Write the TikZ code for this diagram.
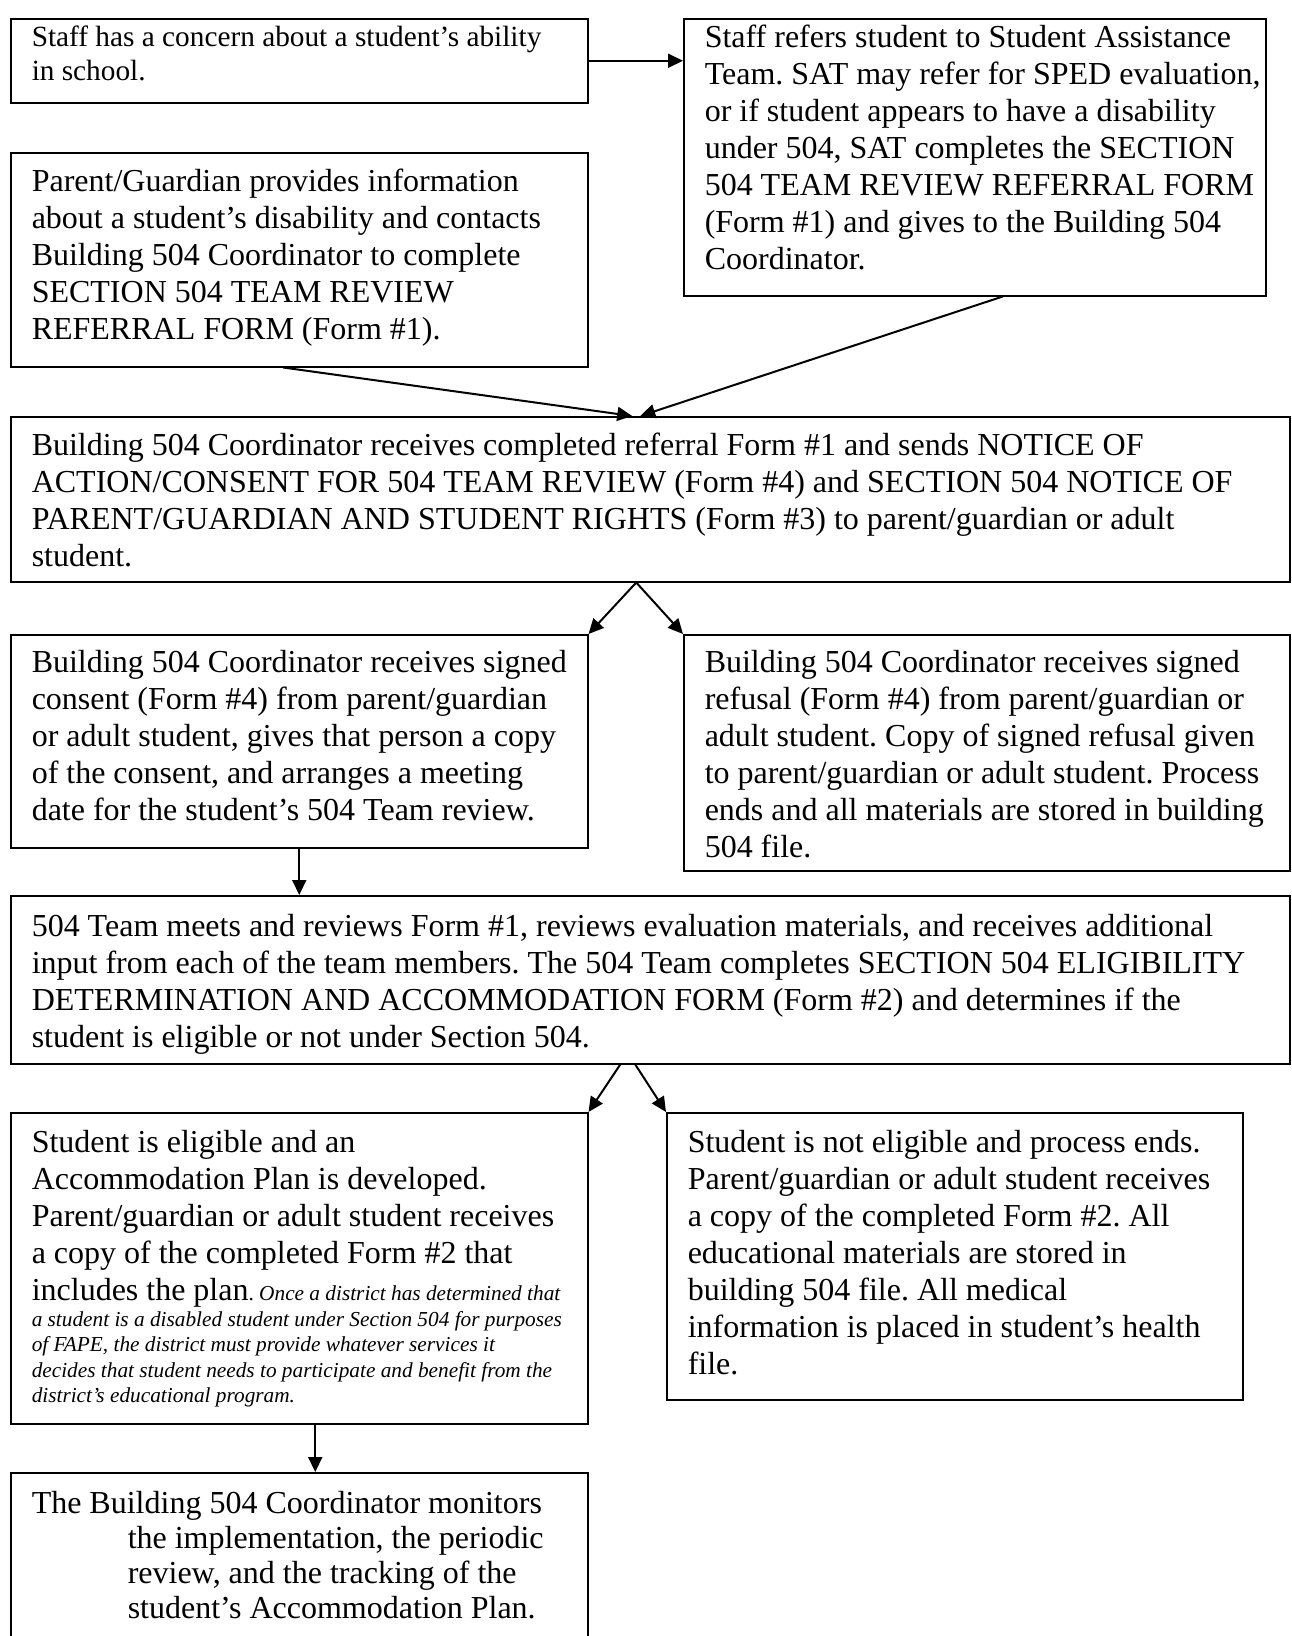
\documentclass[tikz,border=0pt]{standalone}
\usepackage{fontspec}
\setmainfont{Liberation Serif}
\usetikzlibrary{arrows.meta}

\newcommand{\mainsize}{\fontsize{32}{37}\selectfont}
\newcommand{\firstsize}{\fontsize{29.3}{34}\selectfont}
\newcommand{\lastsize}{\fontsize{32}{35}\selectfont}
\newcommand{\notesize}{\fontsize{21.3}{25.5}\selectfont\itshape}

\tikzset{
  flowbox/.style={draw, line width=1.5pt, anchor=north west, inner sep=0pt,
    font=\mainsize,
    execute at begin node={\frenchspacing\spaceskip=0pt\xspaceskip=0pt
      \leftskip=21pt\rightskip=-12pt plus 1fil\relax}},
  flowarrow/.style={line width=2pt, -{Triangle[length=15pt,width=14pt]}}
}

\begin{document}
\begin{tikzpicture}[x=1pt, y=-1pt]
\useasboundingbox (0,0) rectangle (1291,1636);

% first row
\node[flowbox, font=\firstsize, text width=577pt, text height=28pt, text depth=56pt] (concern) at (10,18)
  {Staff has a concern about a student's ability\\ in school.};
\node[flowbox, text width=582pt, text height=29pt, text depth=248pt] (refers) at (683,18)
  {Staff refers student to Student Assistance\\ Team. SAT may refer for SPED evaluation,\\ or if student appears to have a disability\\ under 504, SAT completes the SECTION\\ 504 TEAM REVIEW REFERRAL FORM\\ (Form \#1) and gives to the Building 504\\ Coordinator.};
\node[flowbox, text width=577pt, text height=39pt, text depth=175pt] (parent) at (10,152)
  {Parent/Guardian provides information\\ about a student's disability and contacts\\ Building 504 Coordinator to complete\\ SECTION 504 TEAM REVIEW\\ REFERRAL FORM (Form \#1).};

% coordinator review
\node[flowbox, text width=1279pt, text height=39pt, text depth=126pt] (review) at (10,416)
  {Building 504 Coordinator receives completed referral Form \#1 and sends NOTICE OF\\ ACTION/CONSENT FOR 504 TEAM REVIEW (Form \#4) and SECTION 504 NOTICE OF\\ PARENT/GUARDIAN AND STUDENT RIGHTS (Form \#3) to parent/guardian or adult\\ student.};

% consent or refusal
\node[flowbox, text width=577pt, text height=38pt, text depth=175pt] (consent) at (10,634)
  {Building 504 Coordinator receives signed\\ consent (Form \#4) from parent/guardian\\ or adult student, gives that person a copy\\ of the consent, and arranges a meeting\\ date for the student's 504 Team review.};
\node[flowbox, text width=606pt, text height=38pt, text depth=198pt] (refusal) at (683,634)
  {Building 504 Coordinator receives signed\\ refusal (Form \#4) from parent/guardian or\\ adult student. Copy of signed refusal given\\ to parent/guardian or adult student. Process\\ ends and all materials are stored in building\\ 504 file.};

% team meeting
\node[flowbox, text width=1279pt, text height=41pt, text depth=127pt] (team) at (10,895)
  {504 Team meets and reviews Form \#1, reviews evaluation materials, and receives additional\\ input from each of the team members. The 504 Team completes SECTION 504 ELIGIBILITY\\ DETERMINATION AND ACCOMMODATION FORM (Form \#2) and determines if the\\ student is eligible or not under Section 504.};

% eligibility
\node[flowbox, text width=577pt, text height=40pt, text depth=271pt] (eligible) at (10,1112)
  {Student is eligible and an\\ Accommodation Plan is developed.\\ Parent/guardian or adult student receives\\ a copy of the completed Form \#2 that\\ includes the plan{\fontsize{21.3}{25.5}\selectfont.\itshape\ Once a district has determined that}\par
  {\notesize a student is a disabled student under Section 504 for purposes\\ of FAPE, the district must provide whatever services it\\ decides that student needs to participate and benefit from the\\ district's educational program.\par}};
\node[flowbox, text width=576pt, text height=40pt, text depth=247pt] (noteligible) at (666,1112)
  {Student is not eligible and process ends.\\ Parent/guardian or adult student receives\\ a copy of the completed Form \#2. All\\ educational materials are stored in\\ building 504 file. All medical\\ information is placed in student's health\\ file.};

% monitoring
\node[flowbox, font=\lastsize, text width=577pt, text height=41pt, text depth=137pt] (monitors) at (10,1472)
  {The Building 504 Coordinator monitors\\ \hspace*{96pt}the implementation, the periodic\\ \hspace*{96pt}review, and the tracking of the\\ \hspace*{96pt}student's Accommodation Plan.};

\draw[flowarrow] (concern.east) -- (concern.east -| refers.west);
\draw[flowarrow] ([xshift=-16pt]parent.south) -- ([xshift=-18pt]review.north);
\draw[flowarrow] ([xshift=28pt]refers.south) -- ([xshift=-10pt]review.north);
\draw[flowarrow] ([xshift=-14pt]review.south) -- (consent.north east);
\draw[flowarrow] ([xshift=-14pt]review.south) -- (refusal.north west);
\draw[flowarrow] (consent.south) -- (consent.south |- team.north);
\draw[flowarrow] ([xshift=-30pt]team.south) -- (eligible.north east);
\draw[flowarrow] ([xshift=-15pt]team.south) -- (noteligible.north west);
\draw[flowarrow] ([xshift=16pt]eligible.south) -- ([xshift=16pt]eligible.south |- monitors.north);
\end{tikzpicture}
\end{document}
